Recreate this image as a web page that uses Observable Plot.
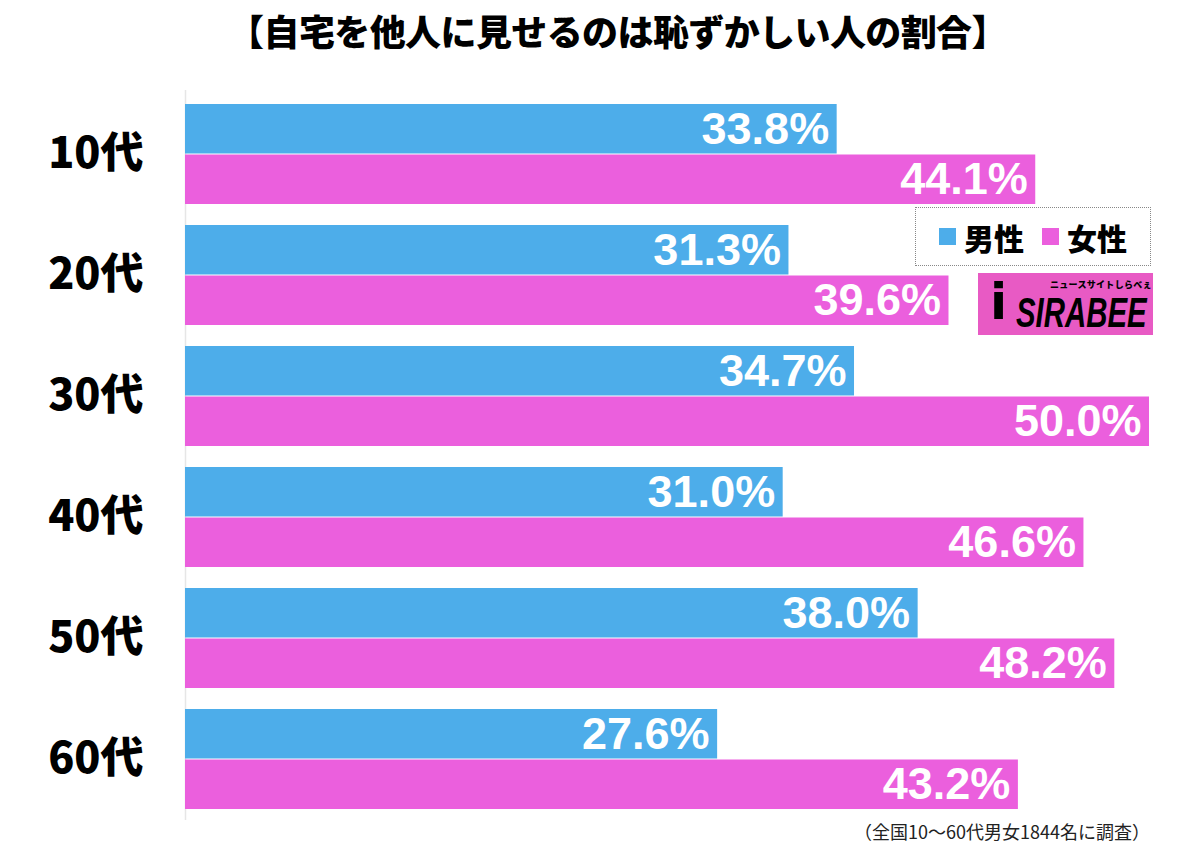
<!DOCTYPE html>
<html><head><meta charset="utf-8">
<script src="https://cdn.jsdelivr.net/npm/d3@7"></script>
<script src="https://cdn.jsdelivr.net/npm/@observablehq/plot@0.6"></script>
<style>
body{margin:0;background:#fff;font-family:"Noto Sans CJK JP",sans-serif;}
#wrap{position:relative;width:1200px;height:850px;}
#title{position:absolute;left:0;top:0;width:1235px;height:70px;text-align:center;line-height:60px;font-size:36px;font-weight:900;color:#000;letter-spacing:-0.6px;}
#chart{position:absolute;left:0;top:70px;}
#legend{position:absolute;left:915px;top:207px;width:236px;height:59px;border:1px dotted #888;box-sizing:border-box;display:flex;align-items:center;justify-content:center;gap:10px;font-size:30px;font-weight:900;}
#legend .sw{display:inline-block;width:17px;height:17px;margin-right:8px;vertical-align:middle;}
#legend span.item{display:flex;align-items:center;margin:0 4px;}
#logo{position:absolute;left:978px;top:273px;width:175px;height:62px;background:#e85ac4;overflow:hidden;}
#logo .i{position:absolute;left:12px;top:0px;font-family:"DejaVu Sans";font-size:50px;font-weight:900;color:#000;line-height:58px;}
#logo .brand{position:absolute;left:38px;top:21px;font-family:"Liberation Sans",Arial;font-size:42px;font-weight:900;font-style:italic;color:#000;line-height:38px;transform:scaleX(0.7);transform-origin:left top;white-space:nowrap;}
#logo .sub{position:absolute;left:72px;top:6px;font-size:9px;font-weight:900;color:#000;line-height:12px;white-space:nowrap;letter-spacing:0.3px;}
#caption{position:absolute;left:0;top:818px;width:1150px;text-align:right;font-size:18px;color:#222;}
</style></head>
<body>
<div id="wrap">
  <div id="title">【自宅を他人に見せるのは恥ずかしい人の割合】</div>
  <div id="chart"></div>
  <div id="legend"></div>
  <div id="logo"><div class="i">i</div><div class="sub">ニュースサイトしらべぇ</div><div class="brand">SIRABEE</div></div>
  <div id="caption">（全国10〜60代男女1844名に調査）</div>
</div>
<script>
const ages = ["10代","20代","30代","40代","50代","60代"];
const male = [33.8, 31.3, 34.7, 31.0, 38.0, 27.6];
const female = [44.1, 39.6, 50.0, 46.6, 48.2, 43.2];
const seriesNames = ["男性","女性"];
const seriesColors = ["#4dadea","#eb5fdd"];

const data = [];
ages.forEach((a,i)=>{
  data.push({age:a, sex:seriesNames[0], v:male[i]});
  data.push({age:a, sex:seriesNames[1], v:female[i]});
});
const half = 50.5;
const fmt = d => d.v.toFixed(1) + "%";
const maleData = data.filter(d=>d.sex===seriesNames[0]);
const femaleData = data.filter(d=>d.sex===seriesNames[1]);

const chart = Plot.plot({
  width: 1200,
  height: 760,
  marginLeft: 185,
  marginRight: 51,
  marginTop: 20,
  marginBottom: 10,
  x: {domain: [0, 50], axis: null},
  y: {domain: ages, paddingInner: 0.17, paddingOuter: 0, insetTop: 12, insetBottom: 9, label: null},
  color: {domain: seriesNames, range: seriesColors},
  marks: [
    Plot.ruleX([0], {stroke: "#e6e6e6", strokeWidth: 1.5}),
    Plot.barX(maleData, {x: "v", y: "age", fill: "sex", insetBottom: half}),
    Plot.barX(femaleData, {x: "v", y: "age", fill: "sex", insetTop: half}),
    Plot.text(maleData, {x: "v", y: "age", text: fmt, dy: -25, dx: -8, textAnchor: "end", fill: "white", fontSize: 45, fontWeight: "bold", fontFamily: "Liberation Sans, Arial, sans-serif"}),
    Plot.text(femaleData, {x: "v", y: "age", text: fmt, dy: 25, dx: -8, textAnchor: "end", fill: "white", fontSize: 45, fontWeight: "bold", fontFamily: "Liberation Sans, Arial, sans-serif"}),
    Plot.axisY({tickSize: 0, tickPadding: 42, fontSize: 43, fontWeight: 900, fontFamily: "Noto Sans CJK JP, sans-serif", fill: "#000", label: null})
  ]
});
document.getElementById("chart").appendChild(chart);

const lg = document.getElementById("legend");
seriesNames.forEach((n,i)=>{
  const s = document.createElement("span"); s.className="item";
  s.innerHTML = `<span class="sw" style="background:${seriesColors[i]}"></span>${n}`;
  lg.appendChild(s);
});
</script>
</body></html>
